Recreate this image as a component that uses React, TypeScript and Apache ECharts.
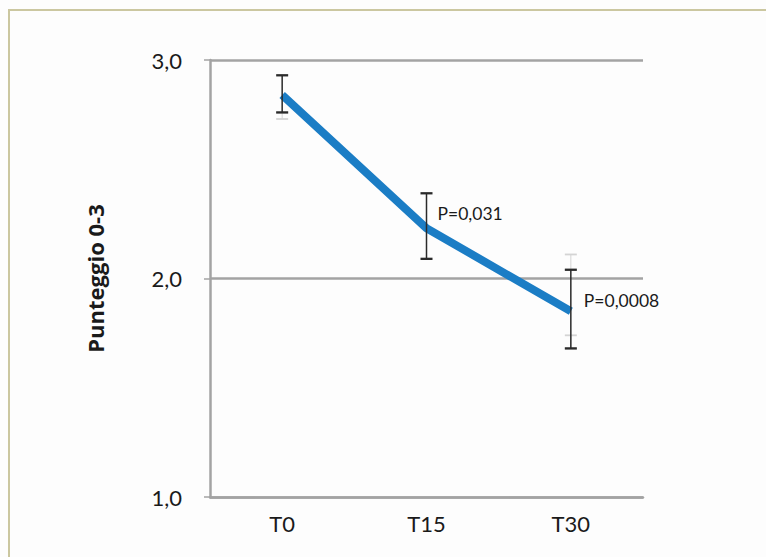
import React, { useEffect, useRef } from "react";
import * as echarts from "echarts";

const categories = ["T0", "T15", "T30"];
const means = [2.84, 2.23, 1.85];
const errLow = [2.76, 2.09, 1.68];
const errHigh = [2.93, 2.39, 2.04];
const faintLow = [2.73, null, 1.74];
const faintHigh = [null, null, 2.11];
const pLabels = ["", "P=0,031", "P=0,0008"];

const FONT = "Lato, 'Open Sans', sans-serif";

export default function App() {
  const ref = useRef<HTMLDivElement>(null);
  useEffect(() => {
    if (!ref.current) return;
    const chart = echarts.init(ref.current, null, { renderer: "svg" });
    const errData = categories.map((_, i) => [i, errLow[i], errHigh[i]]);
    const faintData: any[] = [];
    categories.forEach((_, i) => {
      if (faintLow[i] != null) faintData.push([i, faintLow[i], errLow[i]]);
      if (faintHigh[i] != null) faintData.push([i, errHigh[i], faintHigh[i]]);
    });
    const labelData = categories
      .map((_, i) => [i, means[i], pLabels[i]])
      .filter((d) => d[2] !== "");

    const barRender = (color: string, lw: number) =>
      (params: any, api: any) => {
        const x = api.value(0);
        const lo = api.coord([x, api.value(1)]);
        const hi = api.coord([x, api.value(2)]);
        const half = 6;
        const children: any[] = [
          { type: "line", shape: { x1: lo[0], y1: lo[1], x2: hi[0], y2: hi[1] }, style: { stroke: color, lineWidth: lw } },
          { type: "line", shape: { x1: lo[0] - half, y1: lo[1], x2: lo[0] + half, y2: lo[1] }, style: { stroke: color, lineWidth: lw + 0.8 } },
          { type: "line", shape: { x1: hi[0] - half, y1: hi[1], x2: hi[0] + half, y2: hi[1] }, style: { stroke: color, lineWidth: lw + 0.8 } },
        ];
        return { type: "group", children };
      };

    chart.setOption({
      animation: false,
      backgroundColor: "#fdfdfd",
      grid: { left: 210, right: 123, top: 60, bottom: 60 },
      graphic: [
        {
          type: "rect",
          shape: { x: 9, y: 10, width: 800, height: 600 },
          style: { fill: "none", stroke: "#cbc7a0", lineWidth: 2 },
          z: -1,
        },
      ],
      xAxis: {
        type: "category",
        data: categories,
        boundaryGap: true,
        axisLine: { lineStyle: { color: "#a3a3a3", width: 2.5 } },
        axisTick: { alignWithLabel: true, length: 6, lineStyle: { color: "#b0b0b0", width: 1.5 } },
        axisLabel: { color: "#1a1a1a", fontSize: 22, fontFamily: FONT, margin: 15 },
      },
      yAxis: {
        type: "value",
        min: 1,
        max: 3,
        interval: 1,
        name: "Punteggio 0-3",
        nameLocation: "middle",
        nameGap: 104,
        nameTextStyle: { fontSize: 22, fontWeight: "bold", color: "#1a1a1a", fontFamily: "'Open Sans', sans-serif" },
        axisLine: { show: true, lineStyle: { color: "#a3a3a3", width: 2.5 } },
        axisTick: { show: true, length: 6, lineStyle: { color: "#a3a3a3", width: 1.5 } },
        axisLabel: {
          color: "#1a1a1a",
          fontSize: 22,
          fontFamily: FONT,
          margin: 28,
          formatter: (v: number) => v.toFixed(1).replace(".", ","),
        },
        splitLine: { lineStyle: { color: "#a3a3a3", width: 2.5 } },
      },
      series: [
        {
          type: "custom",
          renderItem: barRender("#d4d4d4", 1),
          data: faintData,
          z: 1,
        },
        {
          type: "line",
          data: means,
          symbol: "none",
          lineStyle: { color: "#1b7dc5", width: 8 },
          z: 2,
        },
        {
          type: "custom",
          renderItem: barRender("#2a2a2a", 1.5),
          data: errData,
          z: 3,
        },
        {
          type: "custom",
          renderItem: (params: any, api: any) => {
            const p = api.coord([api.value(0), api.value(1)]);
            const idx = params.dataIndex;
            const off = idx === 0 ? [11, -15] : [13, -11];
            return {
              type: "text",
              x: p[0] + off[0],
              y: p[1] + off[1],
              style: {
                text: labelData[idx][2] as string,
                fill: "#1a1a1a",
                fontSize: 17.5,
                fontFamily: FONT,
                verticalAlign: "middle",
                align: "left",
              },
            };
          },
          data: labelData,
          z: 4,
        },
      ],
    });
    return () => chart.dispose();
  }, []);
  return (
    <div
      ref={ref}
      style={{ position: "fixed", left: 0, top: 0, width: 766, height: 557 }}
    />
  );
}
